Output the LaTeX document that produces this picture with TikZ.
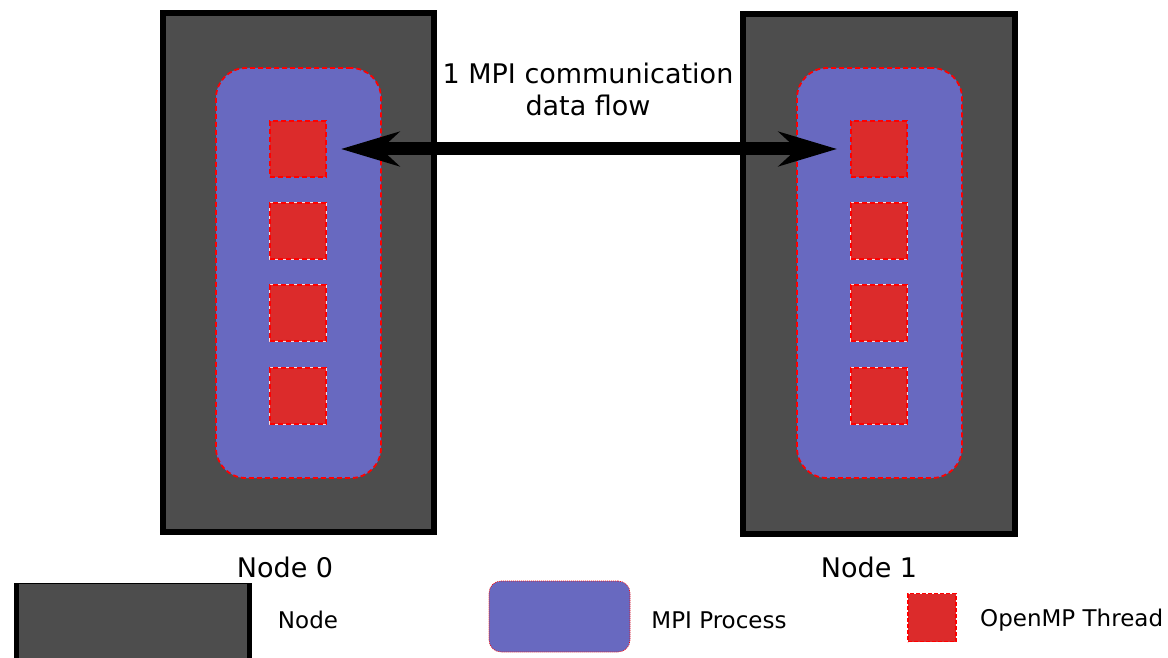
\documentclass[tikz,border=0pt]{standalone}
\usepackage{fontspec}
\setmainfont{DejaVu Sans}
\usetikzlibrary{positioning,arrows.meta}
\definecolor{nodegray}{HTML}{4D4D4D}
\definecolor{mpiblue}{HTML}{6869C0}
\definecolor{threadred}{HTML}{DC2B2B}

\begin{document}
\begin{tikzpicture}[
    x=1pt, y=-1pt,
    cluster/.style={draw=black, line width=6pt, fill=nodegray,
                    minimum width=271pt, minimum height=519pt, inner sep=0pt},
    process/.style={draw=red, line width=1.8pt, dash pattern=on 5pt off 3pt,
                    fill=mpiblue, rounded corners=30pt,
                    minimum width=165pt, minimum height=410pt, inner sep=0pt},
    thread/.style={draw=red, line width=1.8pt, dash pattern=on 5pt off 3pt,
                   fill=threadred, minimum size=56pt, inner sep=0pt},
    lowthread/.style={thread, preaction={draw=white!85!red, solid, line width=1.8pt}},
    bigtext/.style={font=\fontsize{27}{32}\selectfont, align=center},
    legtext/.style={font=\fontsize{23}{27}\selectfont}
]
\useasboundingbox (0,0) rectangle (1168,658);

% ============================
% Node 0
% ============================
\node[cluster] (n0) at (298.5,272.5) {};
\node[process] (p0) at (298.5,273) {};
\node[thread]    (t0a) at (298,149) {};
\node[lowthread] (t0b) at (298,231) {};
\node[lowthread] (t0c) at (298,313) {};
\node[lowthread] (t0d) at (298,396) {};
\node[bigtext] (l0) at (285,567) {Node 0};

% ============================
% Node 1
% ============================
\node[cluster, minimum width=272pt, minimum height=520pt] (n1) at (879,274) {};
\node[process] (p1) at (879.5,273) {};
\node[thread]    (t1a) at (879,149) {};
\node[lowthread] (t1b) at (879,231) {};
\node[lowthread] (t1c) at (879,313) {};
\node[lowthread] (t1d) at (879,396) {};
\node[bigtext] (l1) at (869,567) {Node 1};

% ============================
% Communication
% ============================
\node[bigtext] (comm) at (588,89) {1 MPI communication\\data flow};
\draw[line width=13pt,
      {Stealth[length=58pt, width=34pt, inset=18pt]}-{Stealth[length=58pt, width=34pt, inset=18pt]},
      shorten <=14pt, shorten >=13pt] (t0a.east) -- (t1a.west);

% ============================
% Legend
% ============================
\fill[nodegray] (16,583) rectangle (250,670);
\draw[line width=1pt] (14,583) -- (252,583);
\draw[line width=5pt] (16.5,583) -- (16.5,670);
\draw[line width=5pt] (249.5,583) -- (249.5,670);
\node[legtext] (kn) at (308,620) {Node};
\node[process, rounded corners=12pt, line width=0.6pt, dash pattern=on 1pt off 1pt,
      minimum width=141pt, minimum height=71pt] (kp) at (559.5,616.5) {};
\node[legtext] (kpt) at (719,620) {MPI Process};
\node[thread, minimum size=48pt, line width=1.4pt, dash pattern=on 4pt off 2pt] (kt) at (932,617.5) {};
\node[legtext, anchor=west, inner sep=0pt] (ktt) at (980,620) {OpenMP Thread};

\end{tikzpicture}
\end{document}
